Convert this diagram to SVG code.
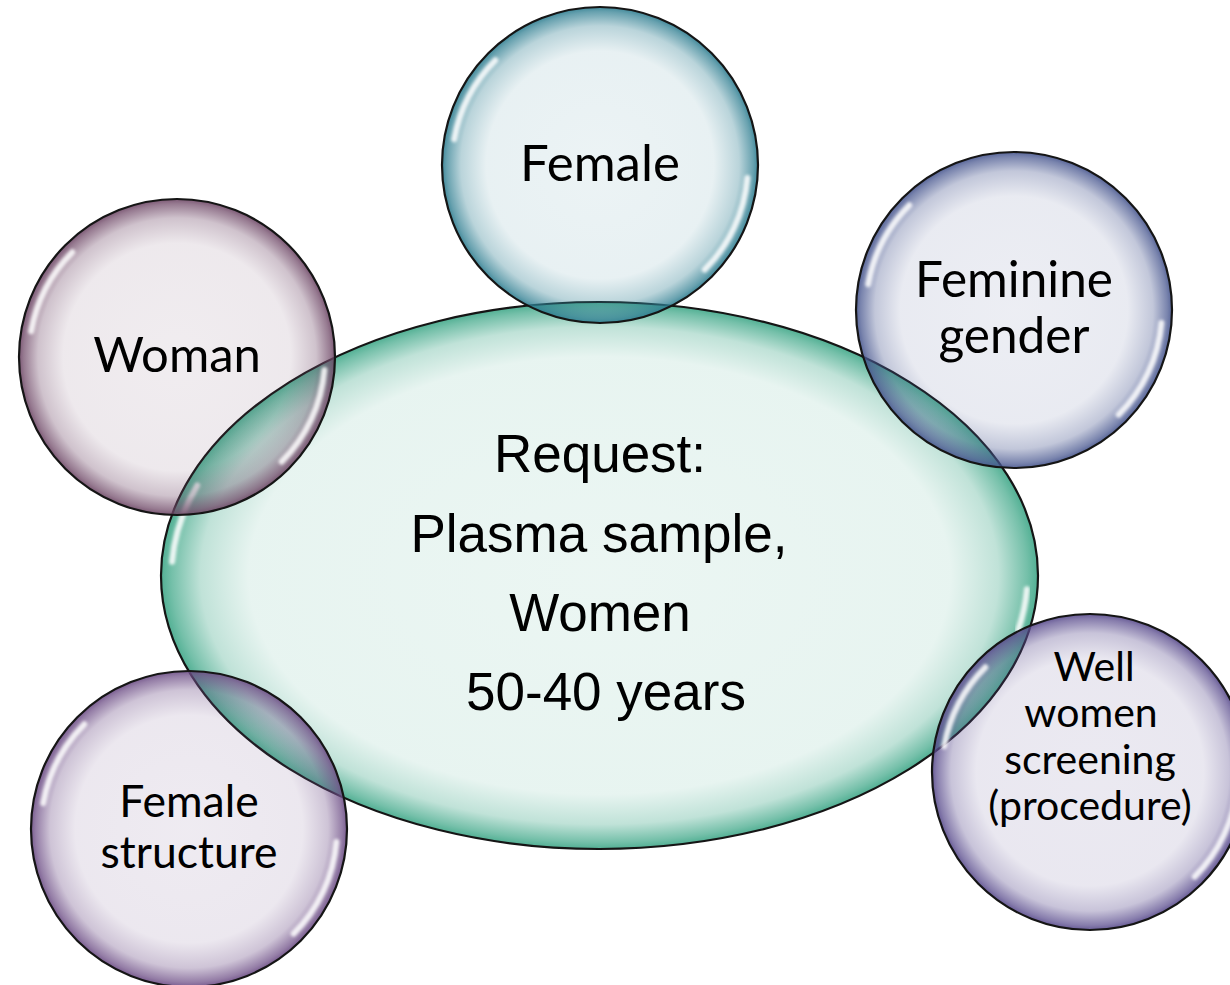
<svg xmlns="http://www.w3.org/2000/svg" xmlns:xlink="http://www.w3.org/1999/xlink" width="1230" height="985" viewBox="0 0 1230 985">
  <style>
    .rim { stroke: #151515; stroke-width: 2.2; }
    .hl { fill: none; stroke: #ffffff; stroke-width: 6; stroke-linecap: round; opacity: 0.85; filter: url(#soft); }
    .bt { font-family: Lato, "Open Sans", "Noto Sans", sans-serif; fill: #000; text-anchor: middle; }
    .ct { font-family: "Liberation Sans", Arial, sans-serif; font-size: 53px; fill: #000; text-anchor: middle; }
  </style>
  <defs>
    <filter id="soft" x="-30%" y="-30%" width="160%" height="160%">
      <feGaussianBlur stdDeviation="1.8"/>
    </filter>
    <radialGradient id="gTeal">
      <stop offset="0" stop-color="#2d7d90" stop-opacity="0.09"/>
      <stop offset="0.72" stop-color="#2d7d90" stop-opacity="0.11"/>
      <stop offset="0.88" stop-color="#2d7d90" stop-opacity="0.33"/>
      <stop offset="0.97" stop-color="#2d7d90" stop-opacity="0.72"/>
      <stop offset="1" stop-color="#2d7d90" stop-opacity="0.9"/>
    </radialGradient>
    <radialGradient id="gBlue">
      <stop offset="0" stop-color="#46558e" stop-opacity="0.1"/>
      <stop offset="0.72" stop-color="#46558e" stop-opacity="0.12"/>
      <stop offset="0.88" stop-color="#46558e" stop-opacity="0.33"/>
      <stop offset="0.97" stop-color="#46558e" stop-opacity="0.72"/>
      <stop offset="1" stop-color="#46558e" stop-opacity="0.9"/>
    </radialGradient>
    <radialGradient id="gMauve">
      <stop offset="0" stop-color="#6e4766" stop-opacity="0.1"/>
      <stop offset="0.72" stop-color="#6e4766" stop-opacity="0.12"/>
      <stop offset="0.88" stop-color="#6e4766" stop-opacity="0.33"/>
      <stop offset="0.97" stop-color="#6e4766" stop-opacity="0.72"/>
      <stop offset="1" stop-color="#6e4766" stop-opacity="0.9"/>
    </radialGradient>
    <radialGradient id="gPurple">
      <stop offset="0" stop-color="#6b4b84" stop-opacity="0.11"/>
      <stop offset="0.72" stop-color="#6b4b84" stop-opacity="0.13"/>
      <stop offset="0.88" stop-color="#6b4b84" stop-opacity="0.33"/>
      <stop offset="0.97" stop-color="#6b4b84" stop-opacity="0.72"/>
      <stop offset="1" stop-color="#6b4b84" stop-opacity="0.9"/>
    </radialGradient>
    <radialGradient id="gViolet">
      <stop offset="0" stop-color="#584a8c" stop-opacity="0.12"/>
      <stop offset="0.72" stop-color="#584a8c" stop-opacity="0.13"/>
      <stop offset="0.88" stop-color="#584a8c" stop-opacity="0.33"/>
      <stop offset="0.97" stop-color="#584a8c" stop-opacity="0.72"/>
      <stop offset="1" stop-color="#584a8c" stop-opacity="0.9"/>
    </radialGradient>
    <radialGradient id="gGreen">
      <stop offset="0" stop-color="#3aa585" stop-opacity="0.1"/>
      <stop offset="0.8" stop-color="#3aa585" stop-opacity="0.12"/>
      <stop offset="0.91" stop-color="#3aa585" stop-opacity="0.32"/>
      <stop offset="0.975" stop-color="#3aa585" stop-opacity="0.7"/>
      <stop offset="1" stop-color="#3aa585" stop-opacity="0.88"/>
    </radialGradient>
    <g id="hl">
      <path class="hl" d="M -145.8 -25.7 A 148 148 0 0 1 -104.7 -104.7"/>
      <path class="hl" d="M 147.4 12.9 A 148 148 0 0 1 104.7 104.7"/>
    </g>
  </defs>

  <g id="connectors"/>

  <g id="request">
    <ellipse cx="599.5" cy="575.5" rx="438.5" ry="273.5" fill="url(#gGreen)" class="rim"/>
    <g transform="translate(599.5,575.5)">
      <path class="hl" d="M -427.4 -13.8 A 428 263 0 0 1 -402.2 -90"/>
      <path class="hl" d="M 427.4 13.8 A 428 263 0 0 1 418.6 54.7"/>
    </g>
    <text class="ct" x="600" y="472">Request:</text>
    <text class="ct" x="599" y="552">Plasma sample,</text>
    <text class="ct" x="600" y="631">Women</text>
    <text class="ct" x="606" y="710">50-40 years</text>
  </g>

  <g id="female" transform="translate(600,165)">
    <circle r="158" fill="url(#gTeal)" class="rim"/>
    <use xlink:href="#hl"/>
    <text class="bt" y="16" font-size="51">Female</text>
  </g>

  <g id="feminine-gender" transform="translate(1014,310)">
    <circle r="158" fill="url(#gBlue)" class="rim"/>
    <use xlink:href="#hl"/>
    <text class="bt" y="-13" font-size="49.5">Feminine</text>
    <text class="bt" y="43" font-size="49.5">gender</text>
  </g>

  <g id="woman" transform="translate(177,357)">
    <circle r="158" fill="url(#gMauve)" class="rim"/>
    <use xlink:href="#hl"/>
    <text class="bt" y="15" font-size="49">Woman</text>
  </g>

  <g id="female-structure" transform="translate(189,829)">
    <circle r="158" fill="url(#gPurple)" class="rim"/>
    <use xlink:href="#hl"/>
    <text class="bt" y="-12" font-size="44.5">Female</text>
    <text class="bt" y="39" font-size="44.5">structure</text>
  </g>

  <g id="well-women-screening" transform="translate(1090,772)">
    <circle r="158" fill="url(#gViolet)" class="rim"/>
    <use xlink:href="#hl"/>
    <text class="bt" x="4" y="-91" font-size="41">Well</text>
    <text class="bt" x="1" y="-45" font-size="41">women</text>
    <text class="bt" y="2" font-size="41">screening</text>
    <text class="bt" y="48" font-size="41">(procedure)</text>
  </g>
</svg>
